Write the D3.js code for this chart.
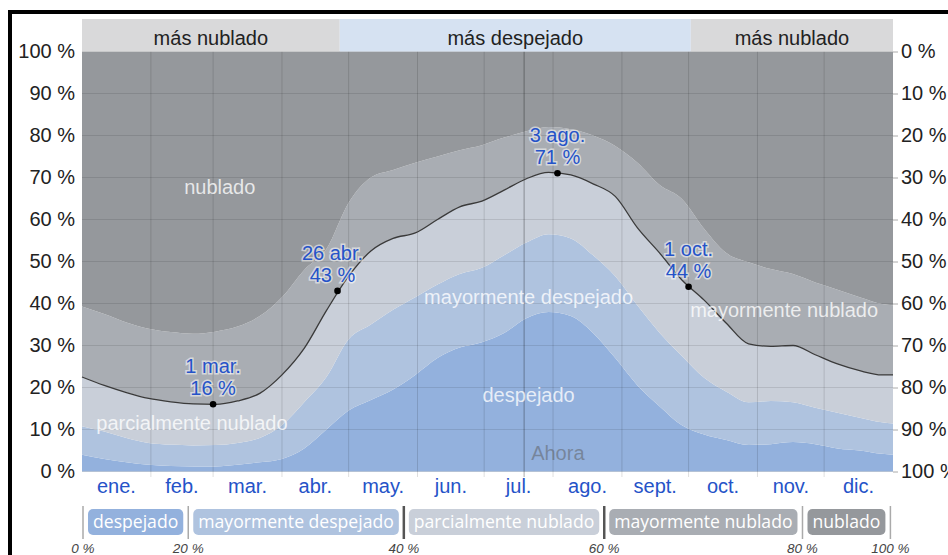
<!DOCTYPE html>
<html>
<head>
<meta charset="utf-8">
<script src="https://cdn.jsdelivr.net/npm/d3@7"></script>
<style>
  body { margin: 0; background: #fff; }
  svg { display: block; font-family: "Liberation Sans", Arial, sans-serif; }
</style>
</head>
<body>
<svg id="chart" width="948" height="555"></svg>
<script>
// Data: day of year and cumulative tops of each cloud-cover band (%)

var days = [0,10,20,30,40,50,60,70,80,90,100,110,120,130,140,150,160,170,180,
  190,200,210,220,230,240,250,260,270,280,290,300,310,320,330,340,350,360,365];

var despejado = [4,3,2.2,1.6,1.3,1.2,1.2,1.6,2.2,3,5.5,10,14.5,17,19.5,23,27,29.5,30.8,
  33,36.5,38,37,33,27,20.5,15.5,11,8.8,7.5,6.3,6.5,7,6.5,5.5,5,4.2,4];

var mayormenteDespejado = [10.8,9.5,8,6.8,6.4,6.2,6.3,6.8,8,11,16.5,22.5,31.5,35,38.5,41.5,44.5,47,48.5,
  51.5,54.5,56.5,55.5,51.5,46.5,39.5,33,27.5,22.3,19,16.5,16.8,16.5,15.2,14,12.8,11.7,11.4];

var parcialmenteNublado = [22.5,20.5,18.8,17.4,16.6,16.1,16,16.8,18.6,23,29.3,38.3,46.5,52.5,55.5,56.8,60,63,64.4,
  67,69.7,71.2,70.6,68.5,65.5,58,52,45.6,40.8,35.3,30.4,29.8,30,27.8,25.6,24,23,23];

var mayormenteNublado = [39.3,37.5,35.5,34,33.2,32.8,33.3,34.5,37,41.5,48,53,64,70,71.8,73.5,75,76.5,77.7,
  79.5,81,82,81.5,80,77.5,73.5,68.2,64.9,57.8,52,49.8,48.2,47,45,43.3,41.5,39.9,39.6];

var monthStarts = [0,31,59,90,120,151,181,212,243,273,304,334,365];
var monthNames = ["ene.","feb.","mar.","abr.","may.","jun.","jul.","ago.","sept.","oct.","nov.","dic."];

var seasons = [
  {start: 0, end: 116, label: "más nublado", color: "#d9d9da"},
  {start: 116, end: 274, label: "más despejado", color: "#d6e2f2"},
  {start: 274, end: 365, label: "más nublado", color: "#d9d9da"}
];

var annotations = [
  {day: 59, date: "1 mar.", value: 16, dx: 0},
  {day: 115, date: "26 abr.", value: 43, dx: -5},
  {day: 214, date: "3 ago.", value: 71, dx: 0},
  {day: 273, date: "1 oct.", value: 44, dx: 0}
];

var nowDay = 199;

var categories = ["despejado","mayormente despejado","parcialmente nublado","mayormente nublado","nublado"];
var colors = ["#93b1dd","#afc3df","#c9cfd9","#a9adb3","#95989c"];
var legendTicks = ["0 %","20 %","40 %","60 %","80 %","100 %"];

// Layout

var margin = {top: 52, right: 55, bottom: 84, left: 82};
var fs = 20;

var svg = d3.select("#chart");

var x = d3.scaleLinear().domain([0, 365]).range([margin.left, 893]);
var y = d3.scaleLinear().domain([0, 100]).range([471.5, 51.5]);

// Stack of bands
var tops = [despejado, mayormenteDespejado, parcialmenteNublado, mayormenteNublado, days.map(function() { return 100; })];
var layers = tops.map(function(top, i) {
  return days.map(function(d, j) {
    return {day: d, y0: i === 0 ? 0 : tops[i - 1][j], y1: top[j]};
  });
});

var area = d3.area()
  .x(function(d) { return x(d.day); })
  .y0(function(d) { return y(d.y0); })
  .y1(function(d) { return y(d.y1); })
  .curve(d3.curveMonotoneX);

svg.selectAll(".band")
  .data(layers)
  .enter().append("path")
  .attr("class", "band")
  .attr("d", area)
  .attr("fill", function(d, i) { return colors[i]; });

// Grid
svg.append("g").selectAll("line")
  .data(d3.range(0, 101, 10))
  .enter().append("line")
  .attr("x1", x(0)).attr("x2", x(365))
  .attr("y1", function(d) { return y(d); })
  .attr("y2", function(d) { return y(d); })
  .attr("stroke", "rgba(0,0,0,0.1)");

svg.append("g").selectAll("line")
  .data(monthStarts.slice(1, 12))
  .enter().append("line")
  .attr("x1", function(d) { return x(d); })
  .attr("x2", function(d) { return x(d); })
  .attr("y1", y(100)).attr("y2", 477)
  .attr("stroke", "rgba(0,0,0,0.13)");

svg.append("line")
  .attr("x1", x(nowDay)).attr("x2", x(nowDay))
  .attr("y1", y(100)).attr("y2", 477)
  .attr("stroke", "rgba(0,0,0,0.22)")
  .attr("stroke-width", 1.5);

// Line between partly cloudy and mostly cloudy
var line = d3.line()
  .x(function(d) { return x(d); })
  .y(function(d, i) { return y(parcialmenteNublado[i]); })
  .curve(d3.curveMonotoneX);

svg.append("path")
  .datum(days)
  .attr("d", line)
  .attr("fill", "none")
  .attr("stroke", "#3a3a3a")
  .attr("stroke-width", 1.3);

// Season band on top
svg.append("g").selectAll("rect")
  .data(seasons)
  .enter().append("rect")
  .attr("x", function(d) { return x(d.start); })
  .attr("y", 19)
  .attr("width", function(d) { return x(d.end) - x(d.start); })
  .attr("height", y(100) - 19)
  .attr("fill", function(d) { return d.color; });

svg.append("g").selectAll("text")
  .data(seasons)
  .enter().append("text")
  .attr("x", function(d) { return (x(d.start) + x(d.end)) / 2; })
  .attr("y", 45)
  .attr("text-anchor", "middle")
  .attr("font-size", fs)
  .attr("fill", "#222")
  .text(function(d) { return d.label; });

// Band labels
var bandLabels = [
  {text: "nublado", day: 62, value: 66},
  {text: "mayormente despejado", day: 201, value: 40},
  {text: "despejado", day: 201, value: 16.5},
  {text: "parcialmente nublado", day: 49.5, value: 10},
  {text: "mayormente nublado", day: 316, value: 36.8}
];
svg.append("g").selectAll("text")
  .data(bandLabels)
  .enter().append("text")
  .attr("x", function(d) { return x(d.day); })
  .attr("y", function(d) { return y(d.value); })
  .attr("text-anchor", "middle")
  .attr("font-size", fs)
  .attr("fill", "rgba(255,255,255,0.78)")
  .text(function(d) { return d.text; });

svg.append("text")
  .attr("x", x(nowDay) + 7)
  .attr("y", 460)
  .attr("font-size", fs)
  .attr("fill", "rgba(90,90,90,0.5)")
  .text("Ahora");

// Annotations
var ann = svg.append("g").selectAll("g")
  .data(annotations)
  .enter().append("g");

ann.append("circle")
  .attr("cx", function(d) { return x(d.day); })
  .attr("cy", function(d) { return y(d.value); })
  .attr("r", 3.3)
  .attr("fill", "#000");

ann.selectAll("text")
  .data(function(d) { return [[d, d.date, 31], [d, d.value + " %", 9]]; })
  .enter().append("text")
  .attr("x", function(t) { return x(t[0].day) + t[0].dx; })
  .attr("y", function(t) { return y(t[0].value) - t[2]; })
  .attr("text-anchor", "middle")
  .attr("font-size", fs)
  .attr("fill", "#2553c8")
  .attr("stroke", "rgba(255,255,255,0.55)")
  .attr("stroke-width", 3)
  .attr("paint-order", "stroke")
  .text(function(t) { return t[1]; });

// Axes
var yLeft = svg.append("g")
  .attr("transform", "translate(" + (margin.left - 7) + ",0)")
  .call(d3.axisLeft(y).tickValues(d3.range(0, 101, 10)).tickSize(0).tickPadding(0)
    .tickFormat(function(d) { return d + " %"; }));
yLeft.select(".domain").remove();

var yRight = svg.append("g")
  .attr("transform", "translate(" + x(365) + ",0)")
  .call(d3.axisRight(y).tickValues(d3.range(0, 101, 10)).tickSize(5).tickPadding(3)
    .tickFormat(function(d) { return (100 - d) + " %"; }));
yRight.select(".domain").remove();
yRight.selectAll(".tick line").attr("stroke", "#aaa");

svg.selectAll(".tick text")
  .attr("font-size", fs)
  .attr("font-family", "Liberation Sans, Arial, sans-serif")
  .attr("fill", "#222");

svg.append("g").selectAll("text")
  .data(monthNames)
  .enter().append("text")
  .attr("x", function(d, i) { return x((monthStarts[i] + monthStarts[i + 1]) / 2); })
  .attr("y", 493)
  .attr("text-anchor", "middle")
  .attr("font-size", fs)
  .attr("fill", "#2553c8")
  .text(function(d) { return d; });

// Legend
var legend = svg.append("g").attr("font-family", "'Open Sans', sans-serif");
var lx = 83, dividers = [lx];
categories.forEach(function(c, i) {
  var t = legend.append("text")
    .attr("y", 528)
    .attr("font-size", 17.6)
    .attr("fill", "#fff")
    .text(c);
  var w = t.node().getComputedTextLength();
  legend.insert("rect", "text")
    .attr("x", lx + 5)
    .attr("y", 509)
    .attr("width", w + 10)
    .attr("height", 26)
    .attr("rx", 5)
    .attr("fill", colors[i]);
  t.attr("x", lx + 10);
  lx += w + 20;
  dividers.push(lx);
});

legend.selectAll("line")
  .data(dividers)
  .enter().append("line")
  .attr("x1", function(d) { return d; })
  .attr("x2", function(d) { return d; })
  .attr("y1", 506).attr("y2", 539)
  .attr("stroke", function(d, i) { return (i === 2 || i === 3) ? "#555" : "#aaa"; })
  .attr("stroke-width", function(d, i) { return (i === 2 || i === 3) ? 2.5 : 1.5; });

svg.append("g").selectAll("text")
  .data(dividers)
  .enter().append("text")
  .attr("x", function(d) { return d; })
  .attr("y", 553)
  .attr("text-anchor", "middle")
  .attr("font-size", 13.5)
  .attr("font-style", "italic")
  .attr("fill", "#444")
  .text(function(d, i) { return legendTicks[i]; });

// Frame
svg.append("rect")
  .attr("x", 10).attr("y", 12)
  .attr("width", 2000).attr("height", 2000)
  .attr("fill", "none")
  .attr("stroke", "#000")
  .attr("stroke-width", 4);
</script>
</body>
</html>
